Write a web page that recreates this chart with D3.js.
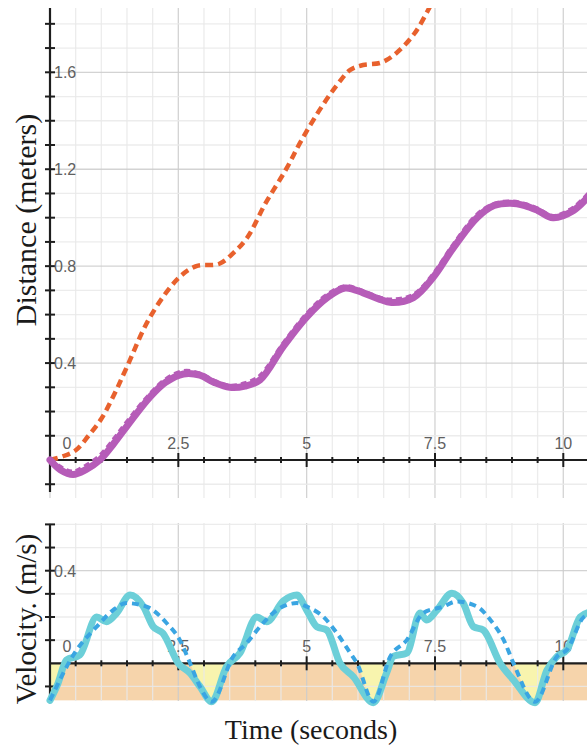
<!DOCTYPE html>
<html lang="en">
<head>
	<meta charset="UTF-8"/>
	<title>Distance and velocity vs time</title>
	<script src="https://d3js.org/d3.v7.min.js"></script>
	<style>
		body { margin: 0; background: #fff; }
		svg { display: block; }
		.tick-label { font-family: "Liberation Sans", Arial, sans-serif; font-size: 16px; fill: #606060; }
		.title { font-family: "Liberation Serif", "Times New Roman", serif; font-size: 28px; fill: #1a1a1a; }
	</style>
</head>
<body>
<script>

	// model distance (orange dashed)
	var distModelTime   = [0, 0.25, 0.5, 0.75, 1.0, 1.25, 1.5, 1.95, 2.5, 2.85, 3.3, 3.6, 3.85, 4.2, 4.6, 4.9, 5.3, 5.6, 5.85, 6.1, 6.45, 6.75, 7.1, 7.4, 7.6];
	var distModelValues = [0, 0.015, 0.04, 0.1, 0.17, 0.27, 0.385, 0.59, 0.75, 0.8, 0.81, 0.86, 0.92, 1.06, 1.2, 1.32, 1.46, 1.55, 1.61, 1.63, 1.64, 1.68, 1.76, 1.87, 1.95];

	// measured distance, two runs (purple solid and purple dashed)
	var distRunTime = [0, 0.2, 0.45, 0.7, 0.97, 1.25, 1.5, 1.95, 2.25, 2.6, 2.92, 3.2, 3.5, 3.8, 4.09, 4.55, 5.0, 5.4, 5.75, 6.1, 6.4, 6.65, 7.08, 7.47, 7.84, 8.32, 8.65, 8.97, 9.25, 9.5, 9.8, 10.2, 10.5];
	var distRunA = [0, -0.04, -0.06, -0.04, 0, 0.07, 0.14, 0.26, 0.32, 0.355, 0.35, 0.32, 0.3, 0.305, 0.33, 0.47, 0.59, 0.67, 0.71, 0.69, 0.665, 0.65, 0.67, 0.755, 0.87, 1.0, 1.05, 1.06, 1.05, 1.03, 1.0, 1.03, 1.09];
	var distRunB = [0.005, -0.03, -0.05, -0.025, 0.015, 0.085, 0.155, 0.27, 0.33, 0.365, 0.355, 0.325, 0.305, 0.315, 0.345, 0.48, 0.6, 0.68, 0.715, 0.695, 0.67, 0.66, 0.68, 0.765, 0.88, 1.01, 1.055, 1.065, 1.055, 1.035, 1.005, 1.04, 1.1];

	// measured velocity (cyan solid)
	var velTime   = [0, 0.15, 0.32, 0.58, 0.91, 1.1, 1.3, 1.56, 1.82, 2.01, 2.2, 2.5, 2.73, 2.92, 3.15, 3.44, 3.7, 4.03, 4.22, 4.55, 4.81, 5.0, 5.2, 5.39, 5.65, 5.91, 6.3, 6.56, 6.69, 6.95, 7.21, 7.34, 7.54, 7.83, 8.05, 8.25, 8.44, 8.77, 9.03, 9.45, 9.68, 9.88, 10.07, 10.33, 10.5];
	var velValues = [-0.16, -0.09, 0.014, 0.036, 0.2, 0.18, 0.217, 0.295, 0.245, 0.158, 0.13, 0, -0.043, -0.1, -0.166, -0.014, 0.044, 0.2, 0.18, 0.27, 0.295, 0.23, 0.158, 0.144, 0, -0.058, -0.17, -0.04, 0.03, 0.044, 0.217, 0.187, 0.23, 0.303, 0.26, 0.158, 0.144, 0, -0.072, -0.17, -0.03, 0.03, 0.058, 0.2, 0.22];

	// model velocity (blue dashed)
	var velModelTime   = [0, 0.52, 0.91, 1.23, 1.49, 1.88, 2.27, 2.53, 2.73, 2.92, 3.15, 3.57, 3.83, 4.09, 4.42, 4.81, 5.0, 5.33, 5.59, 5.85, 5.98, 6.3, 6.63, 6.95, 7.27, 7.66, 7.92, 8.32, 8.58, 8.84, 9.03, 9.45, 9.88, 10.07, 10.4, 10.5];
	var velModelValues = [-0.16, 0.058, 0.158, 0.23, 0.26, 0.245, 0.174, 0.1, 0, -0.1, -0.166, 0.03, 0.087, 0.158, 0.23, 0.26, 0.245, 0.2, 0.13, 0.044, 0, -0.166, 0.03, 0.1, 0.217, 0.245, 0.267, 0.245, 0.187, 0.1, 0, -0.166, 0.03, 0.058, 0.2, 0.21];

	var timeTicks = [0, 2.5, 5, 7.5, 10];
	var timeTickLabels = ["0", "2.5", "5", "7.5", "10"];
	var distTicks = [0.4, 0.8, 1.2, 1.6];
	var distTickLabels = ["0.4", "0.8", "1.2", "1.6"];
	var velTicks = [0.4];
	var velTickLabels = ["0.4"];

	var w = 587;
	var h = 746;
	var left = 50;

	var xScale = d3.scaleLinear().domain([0, 10]).range([left, 563.3]);
	var yDist = d3.scaleLinear().domain([0, 1.6]).range([460, 72.3]);
	var yVel = d3.scaleLinear().domain([0, 0.4]).range([663.3, 570.7]);

	var svg = d3.select("body")
				.append("svg")
				.attr("width", w)
				.attr("height", h);

	var defs = svg.append("defs");

	function pairs(xs, ys) {
		return xs.map(function(x, i){ return [x, ys[i]]; });
	}

	// grid lines for one panel
	function drawGrid(yScale, yMin, yMax, gTop, gBottom) {
		var g = svg.append("g");
		var xs = d3.range(0, 10.51, 0.5);
		var ys = d3.range(Math.round(yMin * 10), Math.round(yMax * 10) + 1).map(function(d){ return d / 10; });

		g.selectAll("line.v")
			.data(xs)
			.enter()
			.append("line")
			.attr("x1", function(d){ return xScale(d); })
			.attr("x2", function(d){ return xScale(d); })
			.attr("y1", gTop)
			.attr("y2", gBottom)
			.attr("stroke", function(d){ return d % 2.5 === 0 ? "#cbcbcb" : "#e9e9e9"; })
			.attr("stroke-opacity", 0.85)
			.attr("stroke-width", 1.3);

		g.selectAll("line.h")
			.data(ys)
			.enter()
			.append("line")
			.attr("x1", left)
			.attr("x2", w)
			.attr("y1", function(d){ return yScale(d); })
			.attr("y2", function(d){ return yScale(d); })
			.attr("stroke", function(d){ return Math.abs(d * 10 % 4) < 0.01 && d !== 0 ? "#cbcbcb" : "#e9e9e9"; })
			.attr("stroke-opacity", 0.85)
			.attr("stroke-width", 1.3);
	}

	// axes with crossing ticks and labels above/right
	function drawAxes(yScale, yMin, yMax, axisTop, axisBottom, yTicks, yLabels) {
		var g = svg.append("g");
		var y0 = yScale(0);

		g.append("line")
			.attr("x1", left).attr("x2", w)
			.attr("y1", y0).attr("y2", y0)
			.attr("stroke", "#1e1e1e").attr("stroke-width", 2.2);

		g.append("line")
			.attr("x1", left).attr("x2", left)
			.attr("y1", axisTop).attr("y2", axisBottom)
			.attr("stroke", "#1e1e1e").attr("stroke-width", 2.2);

		g.selectAll("line.xt")
			.data(d3.range(0.5, 10.51, 0.5))
			.enter()
			.append("line")
			.attr("x1", function(d){ return xScale(d); })
			.attr("x2", function(d){ return xScale(d); })
			.attr("y1", function(d){ return y0 - (d % 2.5 === 0 ? 7 : 3); })
			.attr("y2", function(d){ return y0 + (d % 2.5 === 0 ? 7 : 3); })
			.attr("stroke", "#1e1e1e").attr("stroke-width", 2);

		var ys = d3.range(Math.round(yMin * 10), Math.round(yMax * 10) + 1)
					.map(function(d){ return d / 10; })
					.filter(function(d){ return d !== 0; });

		g.selectAll("line.yt")
			.data(ys)
			.enter()
			.append("line")
			.attr("x1", left - 5)
			.attr("x2", left + 5)
			.attr("y1", function(d){ return yScale(d); })
			.attr("y2", function(d){ return yScale(d); })
			.attr("stroke", "#1e1e1e").attr("stroke-width", 2);

		g.selectAll("text.xl")
			.data(timeTicks)
			.enter()
			.append("text")
			.attr("class", "tick-label")
			.attr("text-anchor", "middle")
			.attr("x", function(d){ return d === 0 ? xScale(d) + 17 : xScale(d); })
			.attr("y", y0 - 11)
			.text(function(d, i){ return timeTickLabels[i]; });

		g.selectAll("text.yl")
			.data(yTicks)
			.enter()
			.append("text")
			.attr("class", "tick-label")
			.attr("x", left + 4)
			.attr("y", function(d){ return yScale(d) + 6; })
			.text(function(d, i){ return yLabels[i]; });
	}

	var line = d3.line()
				.x(function(d){ return xScale(d[0]); })
				.curve(d3.curveCatmullRom.alpha(0.5));

	// ---------- top panel: distance ----------
	drawGrid(yDist, -0.1, 1.8, 8, 498);
	drawAxes(yDist, -0.1, 1.8, 8, 492, distTicks, distTickLabels);

	defs.append("clipPath").attr("id", "clipTop")
		.append("rect").attr("x", 0).attr("y", 8).attr("width", w).attr("height", 490);

	var topPanel = svg.append("g").attr("clip-path", "url(#clipTop)");
	line.y(function(d){ return yDist(d[1]); });

	topPanel.append("path")
		.attr("d", line(pairs(distModelTime, distModelValues)))
		.attr("fill", "none")
		.attr("stroke", "#e8612d")
		.attr("stroke-width", 4.5)
		.attr("stroke-dasharray", "8,5");

	topPanel.append("path")
		.attr("d", line(pairs(distRunTime, distRunB)))
		.attr("fill", "none")
		.attr("stroke", "#b65cb8")
		.attr("stroke-width", 5)
		.attr("stroke-dasharray", "6,4");

	topPanel.append("path")
		.attr("d", line(pairs(distRunTime, distRunA)))
		.attr("fill", "none")
		.attr("stroke", "#b65cb8")
		.attr("stroke-width", 7)
		.attr("stroke-linecap", "round");

	// ---------- bottom panel: velocity ----------
	svg.append("rect")
		.attr("x", left)
		.attr("y", yVel(0))
		.attr("width", w - left)
		.attr("height", yVel(-0.16) - yVel(0))
		.attr("fill", "#f6d4ab");

	// yellow where both curves are below zero
	var velArea = d3.area()
				.x(function(d){ return xScale(d[0]); })
				.y0(yVel(0))
				.y1(function(d){ return yVel(d[1]); })
				.curve(d3.curveMonotoneX);

	defs.append("clipPath").attr("id", "clipBelow")
		.append("rect").attr("x", left).attr("y", yVel(0)).attr("width", w - left).attr("height", 60);
	defs.append("clipPath").attr("id", "clipSolid")
		.append("path").attr("d", velArea(pairs(velTime, velValues)));

	svg.append("g").attr("clip-path", "url(#clipBelow)")
		.append("g").attr("clip-path", "url(#clipSolid)")
		.append("path")
		.attr("d", velArea(pairs(velModelTime, velModelValues)))
		.attr("fill", "#f8f4ae");

	drawGrid(yVel, -0.1, 0.6, 523, 701);
	drawAxes(yVel, -0.1, 0.6, 525, 700, velTicks, velTickLabels);

	line.y(function(d){ return yVel(d[1]); })
		.curve(d3.curveMonotoneX);

	svg.append("path")
		.attr("d", line(pairs(velTime, velValues)))
		.attr("fill", "none")
		.attr("stroke", "#6ccfd8")
		.attr("stroke-width", 7)
		.attr("stroke-linejoin", "round")
		.attr("stroke-linecap", "round");

	svg.append("path")
		.attr("d", line(pairs(velModelTime, velModelValues)))
		.attr("fill", "none")
		.attr("stroke", "#3aa5e2")
		.attr("stroke-width", 4)
		.attr("stroke-dasharray", "7,5");

	// ---------- titles ----------
	svg.append("text")
		.attr("class", "title")
		.attr("text-anchor", "middle")
		.attr("font-size", "30px")
		.style("font-size", "30px")
		.attr("transform", "translate(36, 220) rotate(-90)")
		.text("Distance (meters)");

	svg.append("text")
		.attr("class", "title")
		.attr("text-anchor", "middle")
		.style("font-size", "29px")
		.attr("transform", "translate(36, 619) rotate(-90)")
		.text("Velocity. (m/s)");

	svg.append("text")
		.attr("class", "title")
		.attr("text-anchor", "middle")
		.attr("x", 311)
		.attr("y", 739)
		.text("Time (seconds)");

</script>
</body>
</html>
